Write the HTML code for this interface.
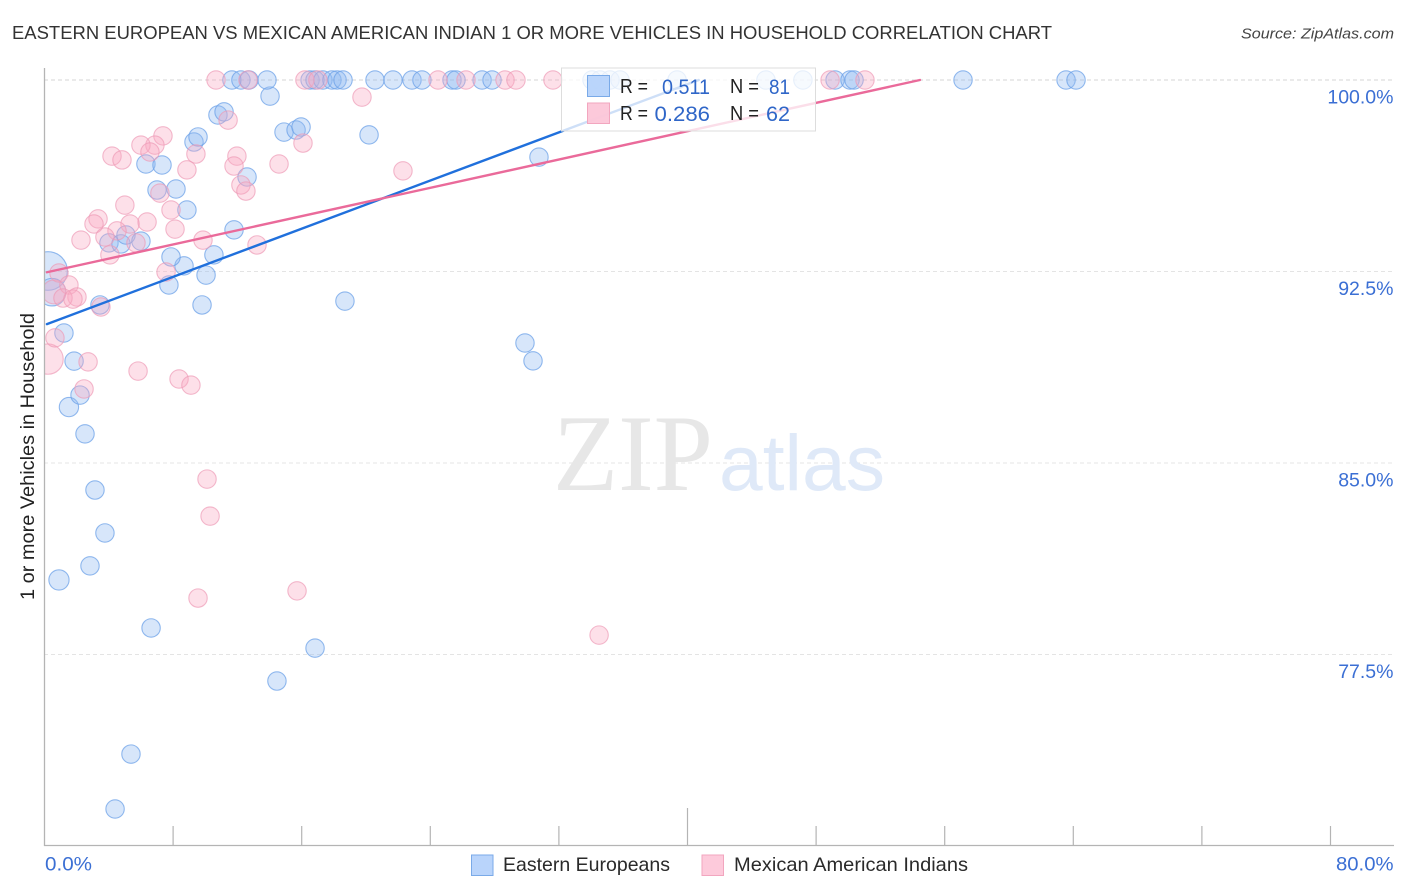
<!DOCTYPE html>
<html lang="en">
<head>
<meta charset="utf-8">
<title>Eastern European vs Mexican American Indian 1 or more Vehicles in Household Correlation Chart</title>
<style>
html,body{margin:0;padding:0;background:#fff;width:1406px;height:892px;overflow:hidden}
svg{display:block;font-family:"Liberation Sans",sans-serif}
</style>
</head>
<body>
<svg id="chart" xmlns="http://www.w3.org/2000/svg" width="1406" height="892" viewBox="0 0 1406 892">
  <defs>
    <clipPath id="plot-clip"><rect x="44" y="50" width="1350" height="796"/></clipPath>
  </defs>
  <rect x="0" y="0" width="1406" height="892" fill="#ffffff"/>
  <text x="12" y="39" font-size="18.5" fill="#333333" textLength="1040" lengthAdjust="spacingAndGlyphs">EASTERN EUROPEAN VS MEXICAN AMERICAN INDIAN 1 OR MORE VEHICLES IN HOUSEHOLD CORRELATION CHART</text>
  <text x="1241" y="38.5" font-size="15" font-style="italic" fill="#444444" textLength="153" lengthAdjust="spacingAndGlyphs">Source: ZipAtlas.com</text>

  <g id="grid"></g>

  <g>
    <text x="553" y="490" font-family="'Liberation Serif',serif" font-size="109" fill="#e7e7e7" textLength="160" lengthAdjust="spacingAndGlyphs">ZIP</text>
    <text x="719" y="490" font-size="79" fill="#dfe9f8" textLength="166" lengthAdjust="spacingAndGlyphs">atlas</text>
  </g>

  <g id="points" clip-path="url(#plot-clip)"></g>
  <g id="trends" clip-path="url(#plot-clip)"></g>

  <g id="axes">
    <line x1="44.5" y1="68" x2="44.5" y2="846" stroke="#b4b4b4" stroke-width="1.3"/>
    <line x1="44" y1="845.5" x2="1394" y2="845.5" stroke="#b4b4b4" stroke-width="1.3"/>
  </g>

  <text transform="translate(34 600) rotate(-90)" font-size="19.5" fill="#222222" textLength="287" lengthAdjust="spacingAndGlyphs">1 or more Vehicles in Household</text>

  <g>
    <rect x="561.5" y="68" width="254" height="63" fill="#ffffff" fill-opacity="0.78" stroke="#dddddd" stroke-width="1"/>
    <rect x="587.5" y="75.5" width="22" height="21" fill="#b6d3fb" fill-opacity="0.95" stroke="#7aaae8" stroke-width="1"/>
    <rect x="587.5" y="103" width="22" height="20.5" fill="#fcc6d8" fill-opacity="0.95" stroke="#f2a6bf" stroke-width="1"/>
    <text x="620" y="93" font-size="20" fill="#222222" textLength="28" lengthAdjust="spacingAndGlyphs">R =</text>
    <text x="662" y="94" font-size="21.5" fill="#2f66c8" textLength="48" lengthAdjust="spacingAndGlyphs">0.511</text>
    <text x="730" y="93" font-size="20" fill="#222222" textLength="29" lengthAdjust="spacingAndGlyphs">N =</text>
    <text x="769" y="94" font-size="21.5" fill="#2f66c8" textLength="21" lengthAdjust="spacingAndGlyphs">81</text>
    <text x="620" y="120" font-size="20" fill="#222222" textLength="28" lengthAdjust="spacingAndGlyphs">R =</text>
    <text x="654.5" y="121" font-size="21.5" fill="#2f66c8" textLength="55.5" lengthAdjust="spacingAndGlyphs">0.286</text>
    <text x="730" y="120" font-size="20" fill="#222222" textLength="29" lengthAdjust="spacingAndGlyphs">N =</text>
    <text x="766" y="121" font-size="21.5" fill="#2f66c8" textLength="24" lengthAdjust="spacingAndGlyphs">62</text>
  </g>

  <g>
    <g>
      <rect x="471.5" y="855" width="21.5" height="20.5" fill="#b9d4fb" stroke="#7aaae8" stroke-width="1"/>
      <text x="503" y="871" font-size="19.5" fill="#2a2a2a" textLength="167" lengthAdjust="spacingAndGlyphs">Eastern Europeans</text>
    </g>
    <g>
      <rect x="702" y="855" width="21.5" height="20.5" fill="#fdcadb" stroke="#f2a6bf" stroke-width="1"/>
      <text x="734" y="871" font-size="19.5" fill="#2a2a2a" textLength="234" lengthAdjust="spacingAndGlyphs">Mexican American Indians</text>
    </g>
  </g>
</svg>
<script>
var yTickValues = [100, 92.5, 85, 77.5];
var yTickLabels = ["100.0%", "92.5%", "85.0%", "77.5%"];
var xTickValues = [0, 8, 16, 24, 32, 40, 48, 56, 64, 72, 80];
var xEndValues = [0, 80];
var xEndLabels = ["0.0%", "80.0%"];

var blueX = [0.22, 0.47, 0.9, 1.52, 1.21, 1.84, 2.21, 2.52, 3.14, 3.76, 2.83, 6.63, 14.46, 16.83, 5.38, 4.39,
  3.45, 18.69, 9.8, 7.74, 8.68, 7.87, 10.05, 10.54, 11.79, 4.01, 4.76, 5.07, 6.0, 8.86, 7.0, 8.18,
  6.31, 7.31, 9.3, 9.55, 10.79, 11.17, 12.6, 14.9, 15.65, 15.96, 20.19, 14.03, 30.76, 29.89, 30.39,
  11.66, 12.22, 12.72, 13.84, 16.52, 16.83, 17.32, 17.88, 18.2, 18.57, 20.56, 21.68, 22.86, 23.48,
  25.35, 25.6, 27.22, 27.84, 34.06, 34.56, 35.18, 35.8, 39.35, 44.88, 47.18, 49.18, 50.11, 50.36,
  57.14, 63.55, 64.17];
var blueY = [92.52, 91.69, 80.42, 87.19, 90.09, 88.99, 87.66, 86.14, 83.94, 82.26, 80.97, 78.54, 76.46, 77.75, 73.6, 71.45,
  91.19, 91.34, 91.19, 91.97, 92.72, 93.07, 92.36, 93.15, 94.13, 93.62, 93.58, 93.93, 93.69, 94.91, 95.69, 95.73,
  96.71, 96.67, 97.57, 97.77, 98.63, 98.75, 96.2, 97.96, 98.04, 98.16, 97.85, 99.37, 96.98, 89.7, 89.0,
  100, 100, 100, 100, 100, 100, 100, 100, 100, 100, 100, 100, 100, 100,
  100, 100, 100, 100, 100, 100, 100, 100, 100, 100, 100, 100, 100, 100,
  100, 100, 100];
var blueSize = [2.1, 1.5, 1.1, 1.05];

var pinkX = [0.22, 0.59, 0.9, 1.52, 2.02, 1.15, 1.77, 3.51, 0.65, 2.71, 2.46, 5.82, 8.37, 9.11, 10.11, 10.3,
  9.55, 15.71, 34.5, 22.3, 19.75, 11.42, 7.37, 6.87, 6.0, 6.56, 9.42, 4.2, 4.82, 8.86, 11.97, 11.79,
  14.59, 16.08, 12.22, 12.53, 7.18, 5.0, 7.87, 3.33, 3.08, 6.38, 5.32, 8.12, 4.51, 3.76, 2.27, 9.86,
  13.22, 5.69, 4.07, 7.56,
  10.67, 12.66, 16.2, 17.01, 24.48, 26.22, 28.65, 29.33, 31.63, 48.87, 51.04];
var pinkY = [89.07, 91.7, 92.44, 91.97, 91.5, 91.46, 91.42, 91.11, 89.9, 88.96, 87.9, 88.6, 88.29, 88.05, 84.37, 82.92,
  79.71, 79.99, 78.26, 96.44, 99.33, 98.43, 97.81, 97.45, 97.45, 97.18, 97.1, 97.02, 96.87, 96.48, 97.02, 96.63,
  96.71, 97.53, 95.89, 95.65, 95.57, 95.1, 94.91, 94.56, 94.36, 94.44, 94.36, 94.16, 94.09, 93.85, 93.73, 93.73,
  93.54, 93.62, 93.15, 92.48,
  100, 100, 100, 100, 100, 100, 100, 100, 100, 100, 100];
var pinkSize = [1.65, 1.3];

var blueTrendX = [0.15, 40.7];
var blueTrendY = [90.44, 100];
var pinkTrendX = [0.15, 54.46];
var pinkTrendY = [92.47, 100];

var SVG_NS = "http://www.w3.org/2000/svg";
function xScale(v) { return 44.5 + v * 16.075; }
function yScale(v) { return 80 + (100 - v) * 25.533; }
function make(tag, attrs, parent) {
  var el = document.createElementNS(SVG_NS, tag);
  for (var k in attrs) { el.setAttribute(k, attrs[k]); }
  parent.appendChild(el);
  return el;
}

var gridLayer = document.getElementById("grid");
var axesLayer = document.getElementById("axes");
var pointLayer = document.getElementById("points");
var trendLayer = document.getElementById("trends");

yTickValues.forEach(function (v, i) {
  var line = make("line", {x1: 44, x2: 1394, y1: yScale(v), y2: yScale(v), stroke: i === 0 ? "#d4d4d4" : "#e4e4e4", "stroke-width": 1, "stroke-dasharray": "4 3"}, gridLayer);
  
  
  var label = make("text", {x: 1393.5, y: yScale(v) + 23.5, "font-size": 19.5, fill: "#3b6fd4", "text-anchor": "end"}, axesLayer);
  label.textContent = yTickLabels[i];
  
  
});

xTickValues.forEach(function (v) {
  if (v === 0) { return; }
  var tick = make("line", {x1: xScale(v), x2: xScale(v), y1: v === 40 ? 808 : 826, y2: 845.5, stroke: "#b4b4b4", "stroke-width": 1.2}, axesLayer);
  
  
});

xEndValues.forEach(function (v, i) {
  var label = make("text", {x: i === 0 ? 45 : 1336, y: 870.5, "font-size": 19.5, fill: "#3b6fd4", textLength: i === 0 ? 47 : 57.5, lengthAdjust: "spacingAndGlyphs"}, axesLayer);
  label.textContent = xEndLabels[i];
  
  
});

blueX.forEach(function (v, i) {
  var dot = make("circle", {cx: xScale(v), cy: yScale(blueY[i]), r: 9.2 * (blueSize[i] || 1), fill: "#8fb9f2", "fill-opacity": 0.36, stroke: "#6a9fe8", "stroke-opacity": 0.72, "stroke-width": 1.1}, pointLayer);
  
  
});

pinkX.forEach(function (v, i) {
  var dot = make("circle", {cx: xScale(v), cy: yScale(pinkY[i]), r: 9.2 * (pinkSize[i] || 1), fill: "#f9a9c3", "fill-opacity": 0.36, stroke: "#ee9ab5", "stroke-opacity": 0.68, "stroke-width": 1.1}, pointLayer);
  
  
});

var blueTrend = make("line", {x1: xScale(blueTrendX[0]), y1: yScale(blueTrendY[0]), x2: xScale(blueTrendX[1]), y2: yScale(blueTrendY[1]), stroke: "#2070dc", "stroke-width": 2.4, "stroke-linecap": "round"}, trendLayer);



var pinkTrend = make("line", {x1: xScale(pinkTrendX[0]), y1: yScale(pinkTrendY[0]), x2: xScale(pinkTrendX[1]), y2: yScale(pinkTrendY[1]), stroke: "#ea6a9a", "stroke-width": 2.4, "stroke-linecap": "round"}, trendLayer);


</script>
</body>
</html>
